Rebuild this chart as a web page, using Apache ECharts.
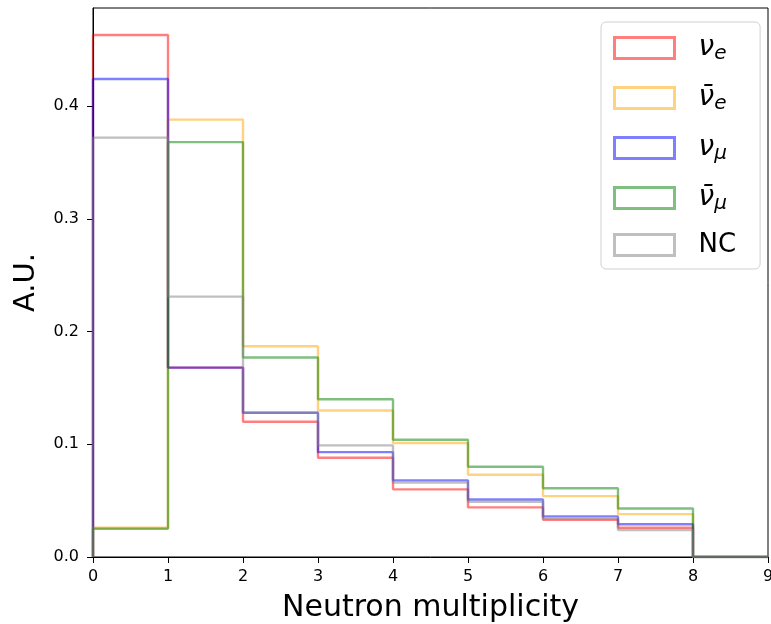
<!DOCTYPE html>
<html><head><meta charset="utf-8">
<script src="https://cdn.jsdelivr.net/npm/echarts@6/dist/echarts.min.js"></script>
<style>html,body{margin:0;padding:0;background:#fff}#c{width:771px;height:624px}</style>
</head><body><div id="c"></div>
<script>
const edges = [0,1,2,3,4,5,6,7,8,9];
const nue     = [0.463, 0.168, 0.120, 0.088, 0.060, 0.044, 0.033, 0.026, 0];
const nuebar  = [0.026, 0.388, 0.187, 0.130, 0.101, 0.073, 0.054, 0.038, 0];
const numu    = [0.424, 0.168, 0.128, 0.093, 0.068, 0.051, 0.036, 0.029, 0];
const numubar = [0.025, 0.368, 0.177, 0.140, 0.104, 0.080, 0.061, 0.043, 0];
const nc      = [0.372, 0.231, 0.128, 0.099, 0.066, 0.049, 0.034, 0.024, 0];
const xTicks = [0,1,2,3,4,5,6,7,8,9];
const yTicks = [0,0.1,0.2,0.3,0.4];

const defs = [
  {name:'nue', vals:nue, color:'rgba(255,0,0,0.5)'},
  {name:'nuebar', vals:nuebar, color:'rgba(255,165,0,0.5)'},
  {name:'numu', vals:numu, color:'rgba(0,0,255,0.5)'},
  {name:'numubar', vals:numubar, color:'rgba(0,128,0,0.5)'},
  {name:'NC', vals:nc, color:'rgba(128,128,128,0.5)'}
];
function stepPath(vals){
  const pts=[[edges[0],0]];
  for(let i=0;i<vals.length;i++){pts.push([edges[i],vals[i]]);pts.push([edges[i+1],vals[i]]);}
  pts.push([edges[edges.length-1],0]);
  return pts;
}
const labels = {
  nue: '{g|ν}{s|e}',
  nuebar: '{g|ν\u0304}{s|e}',
  numu: '{g|ν}{s|μ}',
  numubar: '{g|ν\u0304}{s|μ}',
  NC: '{n|NC}'
};
const FF = 'DejaVu Sans';
const chart = echarts.init(document.getElementById('c'));
chart.setOption({
  animation:false,
  grid:{left:93,right:3,top:8,bottom:67,show:true,borderColor:'#000',borderWidth:1,backgroundColor:'transparent',containLabel:false,outerBoundsMode:'none'},
  xAxis:{type:'value',min:0,max:9,interval:1,
    name:'Neutron multiplicity',nameLocation:'middle',nameGap:36,
    nameTextStyle:{fontFamily:FF,fontSize:30,color:'#000'},
    axisLine:{show:true,lineStyle:{color:'#000',width:1}},
    axisTick:{show:true,length:6,lineStyle:{color:'#000'},customValues:xTicks},
    axisLabel:{fontFamily:FF,fontSize:16,color:'#000',margin:12,customValues:xTicks,formatter:v=>String(v),hideOverlap:false},
    splitLine:{show:false}},
  yAxis:{type:'value',min:0,max:0.487,
    name:'A.U.',nameLocation:'middle',nameGap:52,
    nameTextStyle:{fontFamily:FF,fontSize:29,color:'#000'},
    axisLine:{show:true,lineStyle:{color:'#000',width:1}},
    axisTick:{show:true,length:6,lineStyle:{color:'#000'},customValues:yTicks},
    axisLabel:{fontFamily:FF,fontSize:16,color:'#000',margin:14,customValues:yTicks,formatter:v=>v.toFixed(1)},
    splitLine:{show:false}},
  legend:{orient:'vertical',left:601,top:22,padding:[10,24,11,12],
    backgroundColor:'#fff',borderColor:'#d0d0d0',borderWidth:1,borderRadius:5,
    itemWidth:60,itemHeight:21,itemGap:18,icon:'rect',
    data:defs.map(d=>({name:d.name,itemStyle:{color:'transparent',borderColor:d.color,borderWidth:3}})),
    formatter:n=>labels[n],
    textStyle:{padding:[0,0,0,19],rich:{
      g:{fontFamily:FF,fontStyle:'italic',fontSize:28,color:'#000',lineHeight:28},
      s:{fontFamily:FF,fontStyle:'italic',fontSize:20,color:'#000',padding:[12,0,0,0],lineHeight:28},
      n:{fontFamily:FF,fontSize:26,color:'#000',lineHeight:28}
    }}},
  series:defs.map(d=>({name:d.name,type:'line',data:stepPath(d.vals),symbol:'none',
    lineStyle:{color:d.color,width:2.4},itemStyle:{color:d.color}}))
});
</script></body></html>
